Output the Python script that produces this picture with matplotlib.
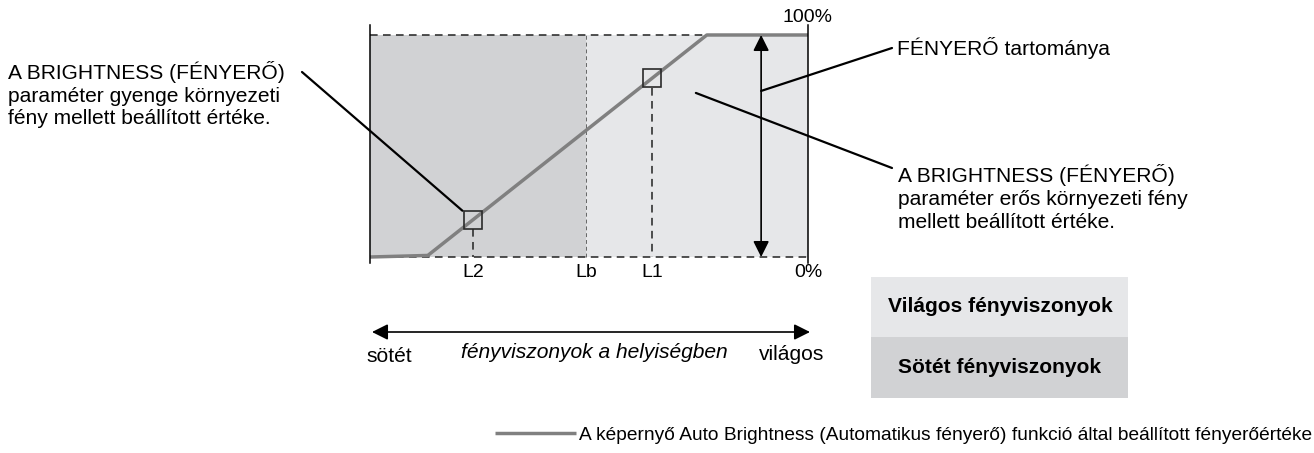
import numpy as np
import matplotlib
matplotlib.use("Agg")
import matplotlib.pyplot as plt
from matplotlib.patches import Rectangle

plt.rcParams['font.family'] = ['Liberation Sans', 'DejaVu Sans']

W, H = 1314, 453

# Auto Brightness curve: ambient light (0-100) -> brightness (%)
curve_x = [0.0, 13.2, 76.9, 100.0]
curve_y = [0.0, 0.7, 100.0, 100.0]

# marked ambient levels
LEVELS = ["L2", "Lb", "L1"]
LEVEL_X = [23.5, 49.3, 64.4]
RANGE_X = 89.3          # brightness range arrow
POINT_AREA = (74.4, 73.9)

DARK = "#d1d2d4"
LIGHT = "#e6e7e9"
CURVE = "#808080"
FS = 15.1


def fig_px(x, y):
    """top-left pixel coordinates -> figure fraction"""
    return x / W, 1 - y / H


fig = plt.figure(figsize=(W / 100, H / 100), dpi=100)
ax = fig.add_axes([370 / W, 1 - 263 / H, 438 / W, 238 / H])
ax.set_xlim(0, 100)
ax.set_ylim(-2.7, 104.5)
ax.set_xticks([])
ax.set_yticks([])
for s in ("top", "bottom"):
    ax.spines[s].set_visible(False)
for s in ("left", "right"):
    ax.spines[s].set_linewidth(1.1)
ax.patch.set_alpha(0)

l2, lb, l1 = LEVEL_X

# dark / light ambient zones
ax.fill_between([0, lb], 0, 100, color=DARK, lw=0)
ax.fill_between([lb, 100], 0, 100, color=LIGHT, lw=0)

# 0% and 100% guide lines
ax.plot([0, 100], [100, 100], color="#222", lw=1.1, ls=(0, (5, 3.5)))
ax.plot([0, 100], [0, 0], color="#222", lw=1.1, ls=(0, (5, 3.5)))
ax.plot([lb, lb], [0, 100], color="#666", lw=0.7, ls=(0, (4, 3)))

# brightness values at L2 and L1
y2 = np.interp(l2, curve_x, curve_y)
y1 = np.interp(l1, curve_x, curve_y)
for lx, ly in ((l2, y2), (l1, y1)):
    ax.plot([lx, lx], [ly - 4.3, 0], color="#222", lw=1.1, ls=(0, (5, 3.5)))

line, = ax.plot(curve_x, curve_y, color=CURVE, lw=2.5, solid_capstyle="butt",
                clip_on=False,
                label="A képernyő Auto Brightness (Automatikus fényerő) funkció által beállított fényerőértéke")
for lx, ly in ((l2, y2), (l1, y1)):
    ax.plot(lx, ly, marker="s", ms=13.5, mfc="none", mec="#2a2a2a", mew=1.2,
            clip_on=False)

# brightness range
ax.annotate("", xy=(RANGE_X, 100), xytext=(RANGE_X, 0),
            arrowprops=dict(arrowstyle="<|-|>", color="black", lw=1.2,
                            mutation_scale=24, shrinkA=0, shrinkB=0))

for name, lx in zip(LEVELS, LEVEL_X):
    ax.text(lx, -6.8, name, ha="center", va="center", fontsize=14)
ax.text(100, -6.8, "0%", ha="center", va="center", fontsize=14)
ax.text(100, 107.7, "100%", ha="center", va="center", fontsize=14)

# callouts
fig.text(*fig_px(8, 61), "A BRIGHTNESS (FÉNYERŐ)\nparaméter gyenge környezeti\nfény mellett beállított értéke.",
         ha="left", va="top", fontsize=FS, linespacing=1.25)
fig.text(*fig_px(897, 48), "FÉNYERŐ tartománya", ha="left", va="center", fontsize=FS)
fig.text(*fig_px(898, 164), "A BRIGHTNESS (FÉNYERŐ)\nparaméter erős környezeti fény\nmellett beállított értéke.",
         ha="left", va="top", fontsize=FS, linespacing=1.25)

lead = dict(arrowstyle="-", color="black", lw=1.6, shrinkA=0)
ax.annotate("", xy=(l2, y2), xytext=(302, H - 72), textcoords="figure pixels",
            arrowprops=dict(lead, shrinkB=10))
ax.annotate("", xy=(RANGE_X, 74.8), xytext=(892, H - 48), textcoords="figure pixels",
            arrowprops=dict(lead, shrinkB=0))
ax.annotate("", xy=POINT_AREA, xytext=(892, H - 168), textcoords="figure pixels",
            arrowprops=dict(lead, shrinkB=0))

# ambient light axis
fig.add_artist(plt.Annotation("", xy=fig_px(810, 332), xytext=fig_px(372, 332),
                              xycoords="figure fraction", textcoords="figure fraction",
                              arrowprops=dict(arrowstyle="<|-|>", color="black", lw=1.2,
                                              mutation_scale=24, shrinkA=0, shrinkB=0)))
fig.text(*fig_px(389, 356), "sötét", ha="center", va="center", fontsize=FS)
fig.text(*fig_px(594, 352), "fényviszonyok a helyiségben", ha="center", va="center",
         fontsize=FS, style="italic")
fig.text(*fig_px(792, 355), "világos", ha="center", va="center", fontsize=FS)

# zone key
for (y0, y1b), col, txt in (((277, 337), LIGHT, "Világos fényviszonyok"),
                            ((337, 398), DARK, "Sötét fényviszonyok")):
    x0, yb = fig_px(871, y1b)
    fig.add_artist(Rectangle((x0, yb), 257 / W, (y1b - y0) / H, transform=fig.transFigure,
                             color=col, lw=0))
    fig.text(*fig_px(1000, (y0 + y1b) / 2), txt, ha="center", va="center",
             fontsize=FS, weight="bold")

fig.legend(handles=[line], loc="center left", bbox_to_anchor=fig_px(495, 435),
           frameon=False, fontsize=13.8, handlelength=4.2, handletextpad=0.2,
           borderpad=0, borderaxespad=0)

fig.savefig("out.png", dpi=100)
